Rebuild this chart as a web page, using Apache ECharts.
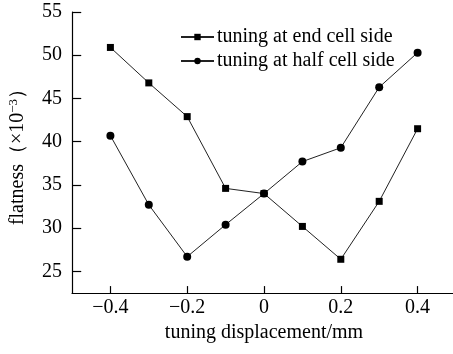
<!DOCTYPE html>
<html>
<head>
<meta charset="utf-8">
<script src="https://cdn.jsdelivr.net/npm/echarts@6/dist/echarts.min.js"></script>
<style>
  html, body { margin: 0; padding: 0; background: #fff; }
  #chart { width: 453px; height: 354px; }
</style>
</head>
<body>
<div id="chart"></div>
<script>
// tuning displacement (mm)
const displacement = [-0.4, -0.3, -0.2, -0.1, 0, 0.1, 0.2, 0.3, 0.4]
// flatness x10^-3
const endCellSide = [50.9, 46.8, 42.9, 34.6, 34.0, 30.2, 26.4, 33.1, 41.5]
const halfCellSide = [40.7, 32.7, 26.7, 30.4, 34.0, 37.7, 39.3, 46.3, 50.3]
const xTicks = [-0.4, -0.2, 0, 0.2, 0.4]
const yTicks = [25, 30, 35, 40, 45, 50, 55]

const font = 'Liberation Serif'
const xMin = -0.5, xMax = 0.5
const yMin = 22.5, yMax = 55

function pairs(xs, ys) {
  return xs.map((x, i) => [x, ys[i]])
}

function fmtX(v) {
  if (v === 0) return '0'
  return (v < 0 ? '\u2212' : '') + Math.abs(v).toFixed(1)
}

// short inward tick marks (axisTick does not show up here)
const tickLines = []
for (const v of xTicks) {
  tickLines.push([{ coord: [v, yMin] }, { coord: [v, yMin + 0.8] }])
}
for (const v of yTicks) {
  tickLines.push([{ coord: [xMin, v] }, { coord: [xMin + 0.024, v] }])
}

const myChart = echarts.init(document.getElementById('chart'), null, { renderer: 'canvas' })
myChart.setOption({
  animation: false,
  backgroundColor: '#fff',
  grid: { left: 72, right: -3, top: 12, bottom: 61, outerBoundsMode: 'none', containLabel: false },
  // axis titles as plain text
  graphic: [
    {
      type: 'text',
      x: 264, y: 333,
      style: {
        text: 'tuning displacement/mm',
        fontFamily: font, fontSize: 20, fill: '#000',
        textAlign: 'center', textVerticalAlign: 'middle'
      }
    },
    {
      type: 'text',
      x: 18, y: 152,
      rotation: Math.PI / 2,
      style: {
        text: 'flatness\uff08\u00d710{sup|\u22123}\uff09',
        fontFamily: font, fontSize: 20, fill: '#000',
        textAlign: 'center', textVerticalAlign: 'middle',
        rich: { sup: { fontFamily: font, fontSize: 13, fill: '#000', verticalAlign: 'top', padding: [0, 0, 9, 0] } }
      }
    }
  ],
  legend: {
    orient: 'vertical',
    left: 175,
    top: 22,
    itemWidth: 33,
    itemHeight: 8,
    itemGap: 4,
    textStyle: { fontFamily: font, fontSize: 20, color: '#000', padding: [0, 0, 0, -2] },
    data: ['tuning at end cell side', 'tuning at half cell side']
  },
  xAxis: {
    type: 'value',
    min: xMin,
    max: xMax,
    axisLine: { lineStyle: { color: '#000', width: 1.2 } },
    axisTick: { show: false },
    axisLabel: {
      customValues: xTicks,
      margin: 5,
      fontFamily: font, fontSize: 20, color: '#000',
      formatter: fmtX
    },
    splitLine: { show: false }
  },
  yAxis: {
    type: 'value',
    min: yMin,
    max: yMax,
    axisLine: { show: true, onZero: false, lineStyle: { color: '#000', width: 1.2 } },
    axisTick: { show: false },
    axisLabel: { customValues: yTicks, margin: 10, fontFamily: font, fontSize: 20, color: '#000' },
    splitLine: { show: false }
  },
  series: [
    {
      name: 'tuning at end cell side',
      type: 'line',
      data: pairs(displacement, endCellSide),
      symbol: 'rect',
      symbolSize: 7,
      itemStyle: { color: '#000' },
      lineStyle: { color: '#222', width: 1 },
      markLine: {
        silent: true,
        symbol: ['none', 'none'],
        label: { show: false },
        lineStyle: { color: '#000', width: 1.2, type: 'solid' },
        data: tickLines
      }
    },
    {
      name: 'tuning at half cell side',
      type: 'line',
      data: pairs(displacement, halfCellSide),
      symbol: 'circle',
      symbolSize: 8,
      itemStyle: { color: '#000' },
      lineStyle: { color: '#222', width: 1 }
    }
  ]
})
</script>
</body>
</html>
